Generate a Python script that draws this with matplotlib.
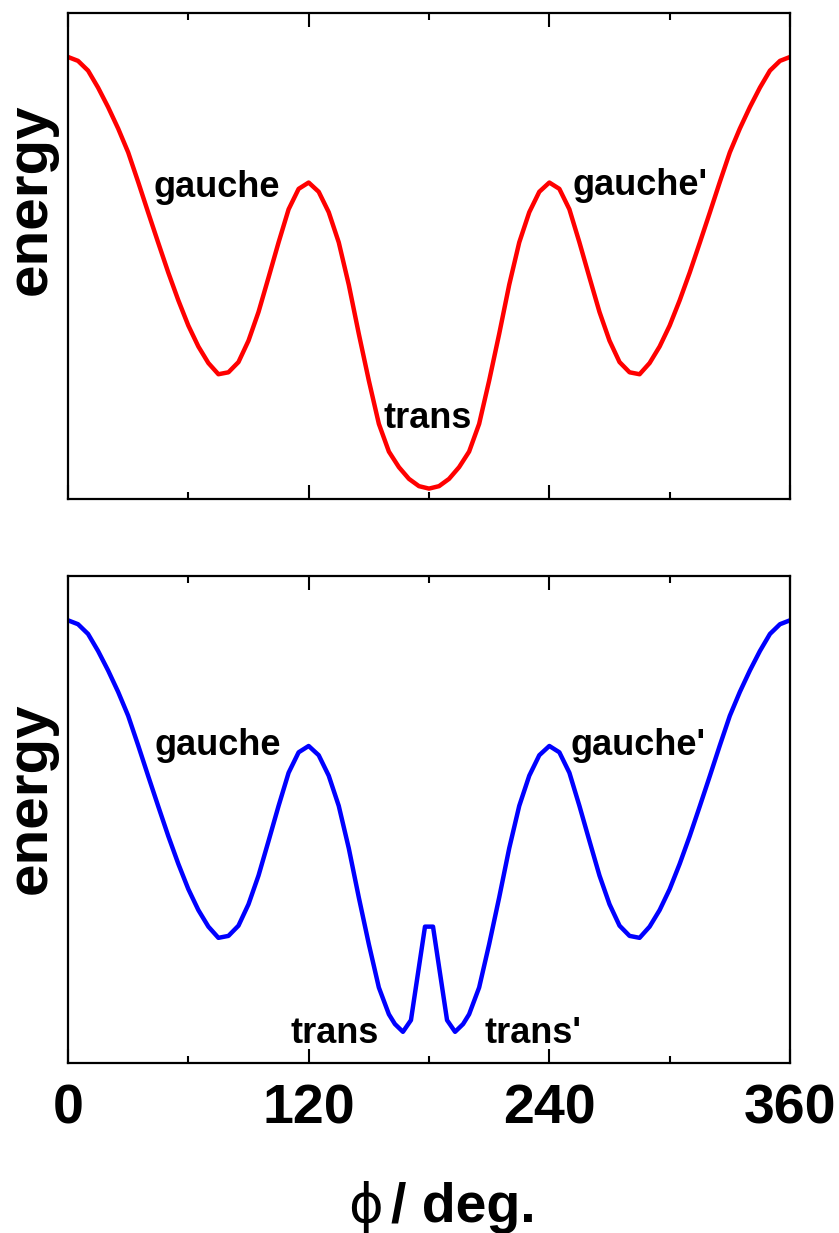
import matplotlib
matplotlib.use("Agg")
import matplotlib.pyplot as plt
from matplotlib.ticker import FixedLocator

plt.rcParams['font.family'] = ['Liberation Sans', 'DejaVu Sans']

# ---- data ----
phi_top = [0, 5, 10, 15, 20, 25, 30, 35, 40, 45, 50, 55, 60, 65, 70, 75, 80, 85,
           90, 95, 100, 105, 110, 115, 120, 125, 130, 135, 140, 145, 150, 155, 160,
           165, 170, 175, 180, 185, 190, 195, 200, 205, 210, 215, 220, 225, 230,
           235, 240, 245, 250, 255, 260, 265, 270, 275, 280, 285, 290, 295, 300,
           305, 310, 315, 320, 325, 330, 335, 340, 345, 350, 355, 360]
energy_top = [0.909, 0.901, 0.881, 0.846, 0.806, 0.762, 0.713, 0.652, 0.589, 0.527,
              0.466, 0.409, 0.357, 0.314, 0.280, 0.257, 0.261, 0.282, 0.326, 0.385,
              0.456, 0.528, 0.596, 0.638, 0.651, 0.632, 0.590, 0.528, 0.441, 0.340,
              0.244, 0.155, 0.098, 0.066, 0.042, 0.027, 0.022, 0.027, 0.042, 0.066,
              0.098, 0.155, 0.244, 0.340, 0.441, 0.528, 0.590, 0.632, 0.651, 0.638,
              0.596, 0.528, 0.456, 0.385, 0.326, 0.282, 0.261, 0.257, 0.280, 0.314,
              0.357, 0.409, 0.466, 0.527, 0.589, 0.652, 0.713, 0.762, 0.806, 0.846,
              0.881, 0.901, 0.909]

phi_bot = [0, 5, 10, 15, 20, 25, 30, 35, 40, 45, 50, 55, 60, 65, 70, 75, 80, 85,
           90, 95, 100, 105, 110, 115, 120, 125, 130, 135, 140, 145, 150, 155, 160,
           163, 167, 171, 178, 182, 189, 193, 197,
           200, 205, 210, 215, 220, 225, 230, 235, 240, 245, 250, 255, 260, 265,
           270, 275, 280, 285, 290, 295, 300, 305, 310, 315, 320, 325, 330, 335,
           340, 345, 350, 355, 360]
energy_bot = [0.909, 0.901, 0.881, 0.846, 0.806, 0.762, 0.713, 0.652, 0.589, 0.527,
              0.466, 0.409, 0.357, 0.314, 0.280, 0.257, 0.261, 0.282, 0.326, 0.385,
              0.456, 0.528, 0.596, 0.638, 0.651, 0.632, 0.590, 0.528, 0.441, 0.340,
              0.244, 0.155, 0.100,
              0.080, 0.064, 0.088, 0.280, 0.280, 0.088, 0.064, 0.080,
              0.100, 0.155, 0.244, 0.340, 0.441, 0.528, 0.590, 0.632, 0.651, 0.638,
              0.596, 0.528, 0.456, 0.385, 0.326, 0.282, 0.261, 0.257, 0.280, 0.314,
              0.357, 0.409, 0.466, 0.527, 0.589, 0.652, 0.713, 0.762, 0.806, 0.846,
              0.881, 0.901, 0.909]

major_ticks = [0, 120, 240, 360]
minor_ticks = [60, 180, 300]
tick_labels = ['0', '120', '240', '360']

top_labels = [("gauche", 42.4, 0.621), ("gauche'", 251.8, 0.625), ("trans", 157.1, 0.1465)]
bot_labels = [("gauche", 43.0, 0.632), ("gauche'", 250.6, 0.632),
              ("trans", 110.7, 0.041), ("trans'", 207.9, 0.041)]

# ---- figure ----
W, H = 839, 1233
fig = plt.figure(figsize=(W / 100, H / 100), dpi=100)

left = 68 / W
width = (790 - 68) / W
ax1 = fig.add_axes([left, 1 - 499.3 / H, width, 486.6 / H])
ax2 = fig.add_axes([left, 1 - 1063 / H, width, 487 / H])


def style(ax, labels_on):
    ax.set_xlim(0, 360)
    ax.set_ylim(0, 1)
    ax.set_yticks([])
    ax.xaxis.set_major_locator(FixedLocator(major_ticks))
    ax.xaxis.set_minor_locator(FixedLocator(minor_ticks))
    ax.tick_params(axis='x', which='both', direction='in', top=True, bottom=True,
                   width=1.5, color='black')
    ax.tick_params(axis='x', which='major', length=10, pad=15)
    ax.tick_params(axis='x', which='minor', length=5)
    if labels_on:
        ax.set_xticklabels(tick_labels, fontsize=40, fontweight='bold')
    else:
        ax.set_xticklabels([])
    for s in ax.spines.values():
        s.set_linewidth(1.6)
        s.set_color('black')


ax1.plot(phi_top, energy_top, color='#ff0000', lw=3.2, solid_joinstyle='round')
ax2.plot(phi_bot, energy_bot, color='#0000ff', lw=3.2, solid_joinstyle='round')
style(ax1, False)
style(ax2, True)

for txt, x, y in top_labels:
    ax1.text(x, y, txt, fontsize=26, fontweight='bold', ha='left', va='baseline')
for txt, x, y in bot_labels:
    ax2.text(x, y, txt, fontsize=26, fontweight='bold', ha='left', va='baseline')

# y labels
fig.text(31 / W, 1 - 199 / H, 'energy', rotation=90, fontsize=42, fontweight='bold',
         ha='center', va='center')
fig.text(31 / W, 1 - 798 / H, 'energy', rotation=90, fontsize=42, fontweight='bold',
         ha='center', va='center')

# x label
fig.text(348 / W, 1 - 1222 / H, '\u03d5', fontsize=38, fontweight='normal',
         family=['DejaVu Sans'], ha='left', va='baseline')
fig.text(391 / W, 1 - 1222 / H, '/ deg.', fontsize=40, fontweight='bold',
         ha='left', va='baseline')

fig.savefig('out.png', dpi=100)
